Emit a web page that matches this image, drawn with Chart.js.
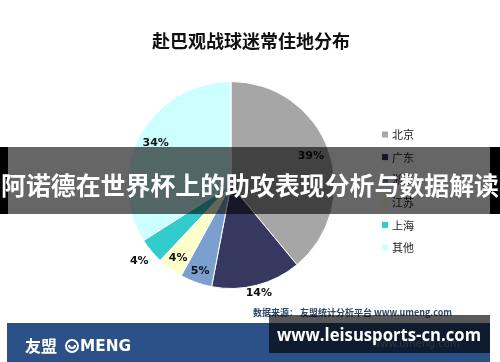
<!DOCTYPE html>
<html>
<head>
<meta charset="utf-8">
<script src="https://cdn.jsdelivr.net/npm/chart.js@4.4.1/dist/chart.umd.min.js"></script>
<style>
  html, body { margin: 0; padding: 0; background: #fff; }
  #wrap { width: 500px; height: 362px; }
</style>
</head>
<body>
<div id="wrap"><canvas id="pieChart" width="500" height="362"></canvas></div>
<script>
// 赴巴观战球迷常住地分布
const categories = ['北京', '广东', '浙江', '江苏', '上海', '其他'];
const shares = [39, 14, 5, 4, 4, 34];
const shareLabels = ['39%', '14%', '5%', '4%', '4%', '34%'];

const sliceColors = ['#a6a6a6', '#37385f', '#7b9fcf', '#ffffcc', '#33cccc', '#ccffff'];
// how far out each percent label sits, as a share of the radius
const labelRadius = [0.82, 1.08, 0.88, 0.87, 1.15, 0.83];

const CJK = '"Noto Sans CJK SC", "Noto Sans", sans-serif';

const extras = {
    id: 'extras',
    beforeDraw(chart) {
        const ctx = chart.ctx;
        ctx.save();
        ctx.fillStyle = '#fff';
        ctx.fillRect(0, 0, chart.width, chart.height);
        ctx.restore();
    },
    afterDatasetsDraw(chart) {
        const ctx = chart.ctx;
        const meta = chart.getDatasetMeta(0);
        ctx.save();
        ctx.font = 'bold 11px "DejaVu Sans", sans-serif';
        ctx.fillStyle = '#111';
        ctx.textAlign = 'center';
        ctx.textBaseline = 'middle';
        meta.data.forEach((arc, i) => {
            const p = arc.getProps(['x', 'y', 'startAngle', 'endAngle', 'outerRadius'], true);
            const mid = (p.startAngle + p.endAngle) / 2;
            const r = p.outerRadius * labelRadius[i];
            ctx.fillText(shareLabels[i], p.x + Math.cos(mid) * r, p.y + Math.sin(mid) * r);
        });
        ctx.restore();
    },
    afterDraw(chart) {
        const ctx = chart.ctx;
        ctx.save();

        // title
        ctx.fillStyle = '#111';
        ctx.font = 'bold 18px ' + CJK;
        ctx.textAlign = 'center';
        ctx.textBaseline = 'middle';
        ctx.fillText('赴巴观战球迷常住地分布', 251, 41, 204);

        // legend
        ctx.textAlign = 'left';
        ctx.font = '11px ' + CJK;
        categories.forEach((name, i) => {
            const y = 135 + i * 22.6;
            ctx.fillStyle = sliceColors[i];
            ctx.fillRect(382, y - 3.5, 6, 6);
            ctx.fillStyle = '#222';
            ctx.fillText(name, 392, y);
        });

        // source line
        ctx.font = 'bold 9px ' + CJK;
        ctx.fillStyle = '#2c4a68';
        ctx.fillText('数据来源： 友盟统计分析平台 www.umeng.com', 253, 313, 207);

        // bottom band with logo
        ctx.fillStyle = '#2c5189';
        ctx.fillRect(7, 323, 483, 39);
        ctx.fillStyle = '#fff';
        ctx.font = 'bold 16px ' + CJK;
        ctx.fillText('友盟', 25, 346);
        ctx.beginPath();
        ctx.arc(72, 346, 6, 0, Math.PI * 2);
        ctx.lineWidth = 2;
        ctx.strokeStyle = '#fff';
        ctx.stroke();
        ctx.beginPath();
        ctx.arc(72, 345, 3, 0, Math.PI);
        ctx.stroke();
        ctx.font = 'bold 16px "DejaVu Sans", sans-serif';
        ctx.fillText('MENG', 80, 347, 51);
        ctx.fillStyle = '#7f93b4';
        ctx.font = '11px "DejaVu Sans", sans-serif';
        ctx.fillText('www.umeng.com', 372, 344, 88);

        // watermark box
        ctx.fillStyle = 'rgba(0, 0, 0, 0.65)';
        ctx.fillRect(269, 315, 221, 38);
        ctx.fillStyle = '#fff';
        ctx.font = 'bold 18px "Open Sans", "DejaVu Sans", sans-serif';
        ctx.textAlign = 'center';
        ctx.fillText('www.leisusports-cn.com', 379, 336, 204);

        // headline banner
        ctx.fillStyle = 'rgba(0, 0, 0, 0.6)';
        ctx.fillRect(8, 147, 482, 67);
        ctx.fillStyle = '#000';
        ctx.fillRect(0, 147, 8, 67);
        ctx.fillRect(490, 147, 10, 67);
        ctx.fillStyle = '#fff';
        ctx.font = 'bold 25px ' + CJK;
        ctx.fillText('阿诺德在世界杯上的助攻表现分析与数据解读', 250, 185, 498);

        ctx.restore();
    }
};

new Chart(document.getElementById('pieChart'), {
    type: 'pie',
    data: {
        labels: categories,
        datasets: [{
            data: shares,
            backgroundColor: sliceColors,
            borderColor: '#fff',
            borderWidth: 1
        }]
    },
    options: {
        responsive: false,
        animation: false,
        layout: { padding: { left: 127, right: 165, top: 81, bottom: 73 } },
        plugins: {
            legend: { display: false },
            title: { display: false },
            tooltip: { enabled: false }
        }
    },
    plugins: [extras]
});
</script>
</body>
</html>
